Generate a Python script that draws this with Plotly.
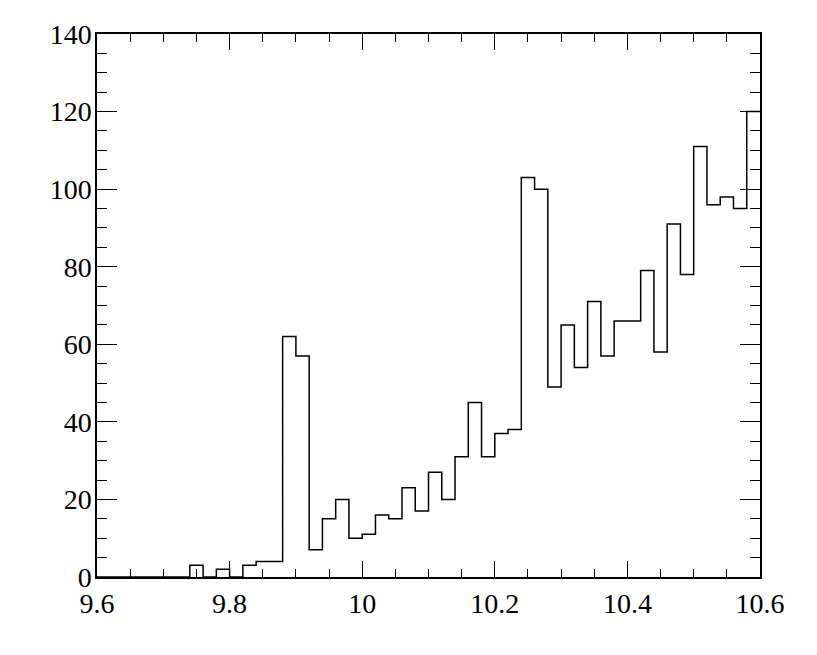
import plotly.graph_objects as go

# Histogram: 50 bins of width 0.02 from 9.6 to 10.6
x_min = 9.6
bin_width = 0.02
counts = [0, 0, 0, 0, 0, 0, 0, 3, 0, 2,
          0, 3, 4, 4, 62, 57, 7, 15, 20, 10,
          11, 16, 15, 23, 17, 27, 20, 31, 45, 31,
          37, 38, 103, 100, 49, 65, 54, 71, 57, 66,
          66, 79, 58, 91, 78, 111, 96, 98, 95, 120]
x_ticks = [9.6, 9.8, 10, 10.2, 10.4, 10.6]
x_tick_labels = ["9.6", "9.8", "10", "10.2", "10.4", "10.6"]
y_ticks = [0, 20, 40, 60, 80, 100, 120, 140]

n = len(counts)
edges = [round(x_min + bin_width * i, 4) for i in range(n + 1)]
step_y = counts + [counts[-1]]

font = dict(family="Liberation Serif, Times New Roman, serif", size=28, color="black")

fig = go.Figure()
fig.add_trace(go.Scatter(
    x=edges, y=step_y, mode="lines", line=dict(shape="hv", color="black", width=1.5),
    hoverinfo="skip", showlegend=False,
))

fig.update_layout(
    width=817, height=655,
    margin=dict(l=97, r=57, t=34, b=78, pad=0),
    paper_bgcolor="white", plot_bgcolor="white",
    font=font,
    showlegend=False,
)
fig.update_xaxes(
    range=[9.6, 10.6], tickvals=x_ticks, ticktext=x_tick_labels,
    showgrid=False, zeroline=False, showline=True, linecolor="black", linewidth=1.5,
    mirror="allticks", ticks="inside", ticklen=16, tickwidth=1, tickcolor="black",
    minor=dict(ticks="inside", dtick=0.05, tick0=9.6, ticklen=8, tickwidth=1, tickcolor="black", showgrid=False),
    ticklabelstandoff=1, tickfont=font,
)
fig.update_yaxes(
    range=[0, 140], tickvals=y_ticks,
    showgrid=False, zeroline=False, showline=True, linecolor="black", linewidth=1.5,
    mirror="allticks", ticks="inside", ticklen=20, tickwidth=1, tickcolor="black",
    minor=dict(ticks="inside", dtick=5, tick0=0, ticklen=10, tickwidth=1, tickcolor="black", showgrid=False),
    ticklabelstandoff=-2, tickfont=font,
)

fig.write_html("out.html", config={"displayModeBar": False},
               post_script="document.body.style.margin='0';")
